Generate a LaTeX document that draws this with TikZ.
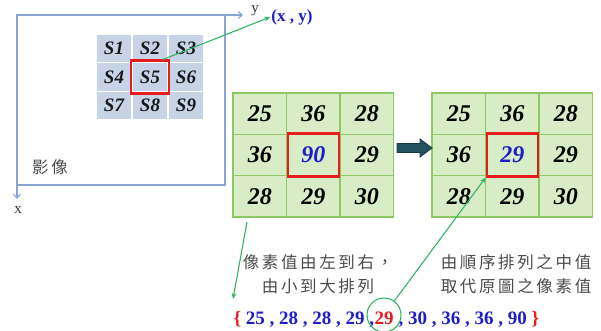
\documentclass[tikz,border=0pt]{standalone}
\usepackage{fontspec}
\setmainfont{Liberation Serif}
\newfontfamily\cjk[LetterSpace=16]{Noto Sans CJK TC}
\usetikzlibrary{arrows.meta}
\definecolor{axisblue}{RGB}{135,166,212}
\definecolor{sfill}{RGB}{199,212,232}
\definecolor{gfill}{RGB}{216,237,198}
\definecolor{gborder}{RGB}{140,200,100}
\definecolor{redbox}{RGB}{232,28,30}
\definecolor{numblue}{RGB}{30,30,200}
\definecolor{conn}{RGB}{50,180,100}
\definecolor{arrfill}{RGB}{36,82,98}
\definecolor{arrdraw}{RGB}{25,55,70}
\definecolor{cjkgray}{RGB}{75,75,75}
\begin{document}
\begin{tikzpicture}[x=1pt,y=-1pt,
  axis/.style={draw=axisblue,line width=1.1pt},
  axtip/.style={-{Straight Barb[length=4pt,width=7pt]}},
  scell/.style={fill=sfill,draw=white,line width=1.3pt,minimum width=36pt,minimum height=28.7pt,inner sep=0pt,
    font=\fontsize{19}{19}\selectfont\bfseries\itshape,text=black!90},
  gcell/.style={fill=gfill,draw=gborder,line width=1.2pt,minimum width=53.5pt,minimum height=41.3pt,inner sep=0pt,
    font=\fontsize{24}{24}\selectfont\bfseries\itshape,text=black!90},
  rbox/.style={draw=redbox,line width=2.2pt,inner sep=0pt},
  conarrow/.style={draw=conn,line width=1.1pt,-{Stealth[length=6pt,width=5pt]}},
  cjktext/.style={font=\cjk\fontsize{16.5}{24.5}\selectfont,text=cjkgray,align=center,inner sep=0pt},
  setnum/.style={font=\fontsize{19}{19}\selectfont\bfseries,text=numblue,inner sep=0pt},
  blockarrow/.style={fill=arrfill,draw=arrdraw,line width=0.8pt}
]
\useasboundingbox (0,0) rectangle (601,331);

% axes and image frame
\coordinate (O) at (17,15);
\coordinate (C) at (225,185);
\coordinate (yend) at (243,15);
\coordinate (xend) at (17,199);
\draw[axis] (O) rectangle (C);
\draw[axis,axtip] (O) -- (yend);
\draw[axis,axtip] (O) -- (xend);
\node[font=\fontsize{15}{15}\selectfont,text=black!80] (ylab) at (255,11) {y};
\node[font=\fontsize{15}{15}\selectfont,text=black!80] (xlab) at (18,210) {x};
\node[cjktext] (img) at (50,167) {影像};

% S grid
\foreach \r in {0,1,2} {
  \foreach \c in {0,1,2} {
    \pgfmathtruncatemacro\k{3*\r+\c+1}
    \node[scell] (s\k) at ({114+36*\c},{48.35+28.7*\r}) {S\k};
  }
}
\node[rbox,minimum width=38pt,minimum height=33pt] (rs5) at (s5) {};

\node[font=\fontsize{17}{17}\selectfont\bfseries,text=numblue,inner sep=1pt] (xy) at (292,17) {(x , y)};
\draw[conarrow] ([xshift=-7pt]rs5.north east) -- (xy.west);

% left grid
\foreach \v/\col [count=\k from 0] in {25/black,36/black,28/black,36/black,90/numblue,29/black,28/black,29/black,30/black} {
  \pgfmathtruncatemacro\r{int(\k/3)}
  \pgfmathtruncatemacro\c{mod(\k,3)}
  \pgfmathtruncatemacro\n{\k+1}
  \node[gcell,text=\col] (a\n) at ({233+26.75+53.5*\c},{93+20.65+41.3*\r}) {\v};
}
\node[rbox,minimum width=51pt,minimum height=43pt] (ra5) at (a5) {};

% right grid
\foreach \v/\col [count=\k from 0] in {25/black,36/black,28/black,36/black,29/numblue,29/black,28/black,29/black,30/black} {
  \pgfmathtruncatemacro\r{int(\k/3)}
  \pgfmathtruncatemacro\c{mod(\k,3)}
  \pgfmathtruncatemacro\n{\k+1}
  \node[gcell,text=\col] (b\n) at ({432+26.75+53.5*\c},{93+20.65+41.3*\r}) {\v};
}
\node[rbox,minimum width=51pt,minimum height=43pt] (rb5) at (b5) {};

% block arrow
\coordinate (arr) at (397,148);
\draw[blockarrow] (arr) ++(0,-4.5) -- ++(23,0) -- ++(0,-4.5) -- ++(12,9) -- ++(-12,9) -- ++(0,-4.5) -- ++(-23,0) -- cycle;

% texts
\node[cjktext] (t1) at (318,274) {像素值由左到右，\\由小到大排列};
\node[cjktext] (t2) at (516,274) {由順序排列之中值\\取代原圖之像素值};

% sorted set
\node[setnum,text=redbox,anchor=base] (med) at (384,324) {29};
\node[setnum,anchor=base east] (setl) at (med.base west) {\textcolor{redbox}{\{}\ 25 , 28 , 28 , 29 ,\ };
\node[setnum,anchor=base west] (setr) at (med.base east) {\ , 30 , 36 , 36 , 90\ \textcolor{redbox}{\}}};
\node[draw=conn,line width=1.1pt,circle,minimum size=34pt,inner sep=0pt] (circ) at (384,315) {};

% connectors
\coordinate (g1) at (247,222);
\coordinate (g2) at (233,299);
\draw[conarrow] (g1) -- (g2);
\draw[conarrow] (circ) -- (rb5.south west);
\end{tikzpicture}
\end{document}
